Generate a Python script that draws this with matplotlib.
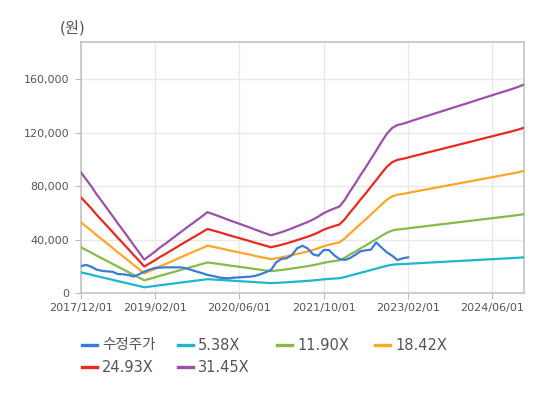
import matplotlib
matplotlib.use("Agg")
import matplotlib.pyplot as plt
import matplotlib.dates as mdates
from matplotlib.lines import Line2D
import numpy as np
import pandas as pd

plt.rcParams['font.family'] = ['DejaVu Sans', 'Noto Sans CJK KR']

# monthly points, 2017/12 .. 2024/12
months = pd.date_range('2017-12-01', '2024-12-01', freq='MS')

# EPS (band = EPS x multiple)
eps = [2870, 2700, 2525, 2350, 2180, 2010, 1835, 1660, 1490, 1315, 1140, 970,
       795, 890, 985, 1080, 1170, 1265, 1360, 1455, 1550, 1645, 1735, 1830,
       1925, 1880, 1835, 1790, 1740, 1695, 1650, 1605, 1560, 1510, 1465, 1420,
       1375, 1410, 1450, 1490, 1540, 1590, 1640, 1690, 1750, 1820, 1900, 1960,
       2010, 2060, 2220, 2410, 2600, 2800, 2990, 3190, 3390, 3600, 3790, 3930,
       4000, 4030, 4070, 4110, 4150, 4190, 4230, 4270, 4310, 4350, 4390, 4430,
       4470, 4510, 4550, 4590, 4630, 4670, 4710, 4750, 4790, 4830, 4870, 4915,
       4965]
multiples = [5.38, 11.90, 18.42, 24.93, 31.45]

# adjusted price, 2017/12 .. 2023/02
price = [20200, 21000, 19500, 17500, 16600, 16200, 15900, 14200, 14000, 13500,
         12300, 14000, 16000, 17500, 18700, 19000, 19200, 19200, 19200, 19200,
         18500, 17200, 16000, 14800, 13500, 12800, 11800, 11200, 11000, 11500,
         11700, 12000, 12200, 12800, 14000, 15500, 17200, 23000, 25600, 26000,
         28400, 33400, 35400, 33400, 29000, 27900, 32200, 32200, 28400, 25400,
         24700, 26000, 28500, 31200, 32000, 32400, 37900, 34000, 30500, 27900,
         24700, 26000, 26700]

band_colors = ['#1cb6cf', '#87ba48', '#ffa629', '#e8291d', '#9b51a8']
price_color = '#3a7bd6'

fig = plt.figure(figsize=(5.36, 3.94), dpi=100)
ax = fig.add_axes([81 / 536, 1 - 293 / 394, 443 / 536, 251 / 394])

handles = []
labels = []
h, = ax.plot(months[:len(price)], price, color=price_color, lw=1.6, zorder=4)
handles.append(h)
labels.append('수정주가')
for mult, c in zip(multiples, band_colors):
    band = np.array(eps) * mult
    h, = ax.plot(months, band, color=c, lw=1.6, zorder=3)
    handles.append(h)
    labels.append('%.2fX' % mult)

ax.set_xlim(months[0], months[-1])
ax.set_ylim(0, 188000)
ax.set_yticks([0, 40000, 80000, 120000, 160000])
ax.yaxis.set_major_formatter(matplotlib.ticker.FuncFormatter(lambda v, p: '{:,.0f}'.format(v)))
xt = pd.to_datetime(['2017-12-01', '2019-02-01', '2020-06-01', '2021-10-01',
                     '2023-02-01', '2024-06-01'])
ax.set_xticks(xt)
ax.xaxis.set_major_formatter(mdates.DateFormatter('%Y/%m/%d'))

ax.grid(True, color='#e9e9e9', lw=1)
ax.set_axisbelow(True)
for s in ax.spines.values():
    s.set_color('#c4c4c4')
    s.set_linewidth(1.2)
ax.tick_params(axis='y', length=4, color='#bbbbbb', pad=4.5, labelsize=8, labelcolor='#555555')
ax.tick_params(axis='x', length=4, color='#bbbbbb', pad=3, labelsize=8, labelcolor='#555555')

fig.text(73 / 536, 1 - 28 / 394, '(원)', ha='center', va='center', fontsize=11,
         color='#555555', family=['DejaVu Sans', 'Noto Sans CJK KR'])

# legend laid out like the original: fixed column width, two rows
col_x = [82, 178, 277, 375]
row_y = [345, 367]
for i, (h, lab) in enumerate(zip(handles, labels)):
    r, c = divmod(i, 4)
    x0 = col_x[c] / 536
    y0 = 1 - row_y[r] / 394
    fig.add_artist(Line2D([x0, x0 + 15 / 536], [y0, y0], color=h.get_color(),
                          lw=2.4, transform=fig.transFigure))
    fig.text(x0 + 20 / 536, y0, lab, ha='left', va='center', fontsize=10.5,
             color='#555555')

fig.savefig('out.png', dpi=100)
